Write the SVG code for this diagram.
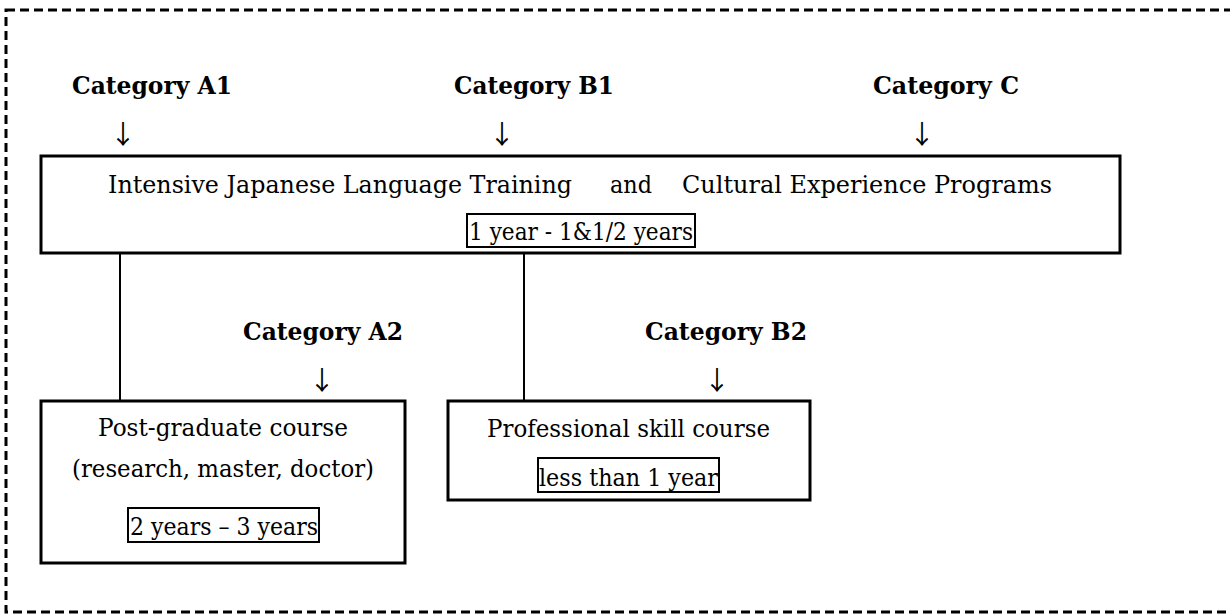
<svg xmlns="http://www.w3.org/2000/svg" width="1230" height="614" viewBox="0 0 1230 614">
<style>
.cat{font-family:"DejaVu Serif","Liberation Serif",serif;font-weight:bold;font-size:25px;fill:#000}
.t{font-family:"DejaVu Serif","Liberation Serif",serif;font-size:24px;fill:#000}
.arr{font-family:"Noto Sans CJK JP","DejaVu Sans",sans-serif;font-size:26px;fill:#000;text-anchor:middle}
.box{fill:#fff;stroke:#000;stroke-width:3}
.dur{fill:none;stroke:#000;stroke-width:2}
.conn{stroke:#000;stroke-width:2;fill:none}
</style>
<rect width="1230" height="614" fill="#fff"/>
<rect id="frame" x="6" y="10" width="1240" height="602" fill="none" stroke="#000" stroke-width="3" stroke-dasharray="9 5"/>
<g id="connectors">
<line class="conn" x1="120" y1="253" x2="120" y2="401"/>
<line class="conn" x1="524" y1="253" x2="524" y2="401"/>
</g>
<g id="labels">
<text class="cat" x="72" y="94" textLength="160" lengthAdjust="spacingAndGlyphs">Category A1</text>
<text class="cat" x="454" y="94" textLength="160" lengthAdjust="spacingAndGlyphs">Category B1</text>
<text class="cat" x="873" y="94" textLength="146" lengthAdjust="spacingAndGlyphs">Category C</text>
<text class="arr" x="123" y="144">↓</text>
<text class="arr" x="502" y="144">↓</text>
<text class="arr" x="922" y="144">↓</text>
<text class="cat" x="243" y="340" textLength="160" lengthAdjust="spacingAndGlyphs">Category A2</text>
<text class="cat" x="645" y="340" textLength="162" lengthAdjust="spacingAndGlyphs">Category B2</text>
<text class="arr" x="322" y="390">↓</text>
<text class="arr" x="717" y="390">↓</text>
</g>
<g id="main">
<rect class="box" x="41" y="156" width="1079" height="97"/>
<text class="t" y="193"><tspan x="108" textLength="464" lengthAdjust="spacingAndGlyphs">Intensive Japanese Language Training</tspan><tspan x="610" textLength="42" lengthAdjust="spacingAndGlyphs">and</tspan><tspan x="682" textLength="370" lengthAdjust="spacingAndGlyphs">Cultural Experience Programs</tspan></text>
<rect class="dur" x="467" y="214" width="228" height="33"/>
<text class="t" x="469" y="240" textLength="224" lengthAdjust="spacingAndGlyphs">1 year - 1&amp;1/2 years</text>
</g>
<g id="postgrad">
<rect class="box" x="41" y="401" width="364" height="162"/>
<text class="t" x="98" y="436" textLength="250" lengthAdjust="spacingAndGlyphs">Post-graduate course</text>
<text class="t" x="72" y="477" textLength="302" lengthAdjust="spacingAndGlyphs">(research, master, doctor)</text>
<rect class="dur" x="128" y="508" width="191" height="34"/>
<text class="t" x="130" y="535" textLength="188" lengthAdjust="spacingAndGlyphs">2 years – 3 years</text>
</g>
<g id="professional">
<rect class="box" x="448" y="401" width="362" height="99"/>
<text class="t" x="487" y="437" textLength="283" lengthAdjust="spacingAndGlyphs">Professional skill course</text>
<rect class="dur" x="538" y="458" width="181" height="34"/>
<text class="t" x="539" y="486" textLength="179" lengthAdjust="spacingAndGlyphs">less than 1 year</text>
</g>
</svg>
